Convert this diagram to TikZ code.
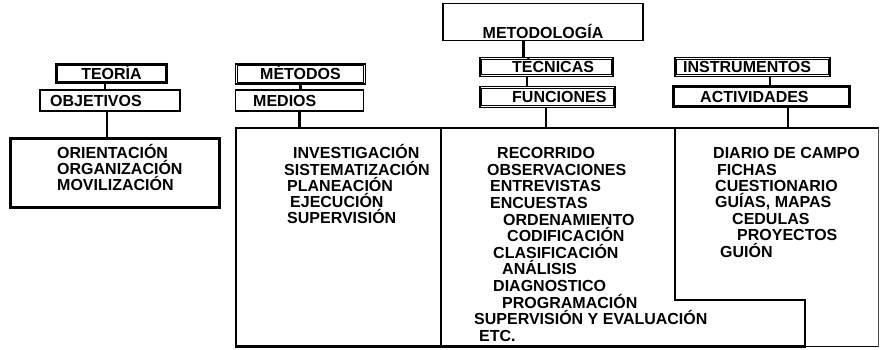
\documentclass[tikz,border=0pt]{standalone}
\usepackage{fontspec}
\setmainfont{Liberation Sans}
\begin{document}
\begin{tikzpicture}[x=1pt,y=-1pt,
  dbox/.style={draw, line width=1.1pt, inner sep=0pt},
  inner/.style={draw, line width=0.9pt},
  sbox/.style={draw, line width=1.2pt, inner sep=0pt},
  link/.style={line width=2.6pt},
  frame/.style={draw, line width=2.6pt, line cap=rect},
  faint/.style={draw=black!70, line width=0.9pt},
  txt/.style={inner sep=0pt, anchor=base west, font=\bfseries\fontsize{16}{16}\selectfont},
  ctxt/.style={inner sep=0pt, anchor=base, font=\bfseries\fontsize{16}{16}\selectfont}]
\useasboundingbox (0,0) rectangle (880,349);

% ---- top boxes
\node[dbox, minimum width=111pt, minimum height=19pt] (teoria) at (111.5,73.5) {};
\node[sbox, minimum width=140pt, minimum height=21pt] (objetivos) at (110,100.5) {};
\node[dbox, minimum width=210pt, minimum height=70pt] (leftbox) at (115,173) {};
\node[dbox, minimum width=130pt, minimum height=20pt] (metodos) at (300.5,74) {};
\node[sbox, minimum width=128pt, minimum height=21pt] (medios) at (299.5,100.5) {};
\node[sbox, minimum width=200pt, minimum height=37pt] (metodologia) at (543,22) {};
\node[dbox, minimum width=133pt, minimum height=19pt] (tecnicas) at (546.5,67) {};
\node[dbox, minimum width=135pt, minimum height=21pt] (funciones) at (547.5,97) {};
\node[dbox, minimum width=155pt, minimum height=19pt] (instrumentos) at (752.5,67) {};
\node[dbox, minimum width=177pt, minimum height=21pt] (actividades) at (761.5,96.5) {};
\foreach \n in {teoria,leftbox,metodos,tecnicas,funciones,instrumentos,actividades}
  \draw[inner] ([shift={(2.3pt,-2.3pt)}]\n.north west) rectangle ([shift={(-2.3pt,2.3pt)}]\n.south east);

% ---- box labels
\node[ctxt] (teoriaT) at (111.5,79.2) {TEORÍA};
\node[txt] (objetivosT) at (50,106.2) {OBJETIVOS};
\node[ctxt] (metodosT) at (300.5,79.7) {MÉTODOS};
\node[txt] (mediosT) at (253,106.2) {MEDIOS};
\node[ctxt] (metodologiaT) at (543,38.2) {METODOLOGÍA};
\node[txt] (tecnicasT) at (512,72.7) {TÉCNICAS};
\node[txt] (funcionesT) at (512,102.7) {FUNCIONES};
\node[txt] (instrumentosT) at (683,72.7) {INSTRUMENTOS};
\node[txt] (actividadesT) at (700,102.2) {ACTIVIDADES};

% ---- lower frame
\coordinate (fTL) at (236,128);
\coordinate (fBL) at (236,346.5);
\coordinate (fTR) at (878,128);
\coordinate (s1T) at (441,128);
\coordinate (s1B) at (441,346.5);
\coordinate (s2T) at (675,128);
\coordinate (s2M) at (675,300);
\coordinate (s3M) at (805,300);
\coordinate (s3B) at (805,346.5);
\coordinate (fBR) at (878,346.5);
\draw[frame] (fBL) -- (fTL) -- (fTR);
\draw[frame] (s1T) -- (s1B);
\draw[frame] (s2T) -- (s2M) -- (s3M) -- (s3B);
\draw[frame] (fBL) -- (s3B);
\draw[line width=1.6pt] (s3B) -- (fBR);
\draw[faint] (fBR) -- (fTR);

% ---- connectors
\draw[link] ([xshift=-6.5pt]teoria.south) -- ([xshift=-6.5pt]teoria.south |- objetivos.north);
\draw[link] ([xshift=-3pt]objetivos.south) -- ([xshift=-3pt]objetivos.south |- leftbox.north);
\draw[link] (metodos.south) -- (metodos.south |- medios.north);
\draw[link] (medios.south) -- (medios.south |- fTL);
\draw[link] ([xshift=-19.5pt]metodologia.south) -- ([xshift=-19.5pt]metodologia.south |- tecnicas.north);
\draw[link] ([xshift=-19.5pt]tecnicas.south) -- ([xshift=-19.5pt]tecnicas.south |- funciones.north);
\draw[line width=1.4pt] ([xshift=-1.5pt]funciones.south) -- ([xshift=-1.5pt]funciones.south |- fTL);
\draw[link] ([xshift=17.5pt]instrumentos.south) -- ([xshift=17.5pt]instrumentos.south |- actividades.north);
\draw[line width=1.4pt] ([xshift=26.5pt]actividades.south) -- ([xshift=26.5pt]actividades.south |- fTL);

% ---- list texts
\foreach \x/\t [count=\i] in {57/ORIENTACIÓN,57/ORGANIZACIÓN,57/MOVILIZACIÓN}
  \node[txt] (a\i) at (\x,158.7+16*\i-16) {\t};
\foreach \x/\t [count=\i] in {293/INVESTIGACIÓN,284/SISTEMATIZACIÓN,287/PLANEACIÓN,290/EJECUCIÓN,287/SUPERVISIÓN}
  \node[txt] (b\i) at (\x,158.7+16.3*\i-16.3) {\t};
\foreach \x/\t [count=\i] in {497/RECORRIDO,487/OBSERVACIONES,490/ENTREVISTAS,490/ENCUESTAS,503/ORDENAMIENTO,507/CODIFICACIÓN,493/CLASIFICACIÓN,502/ANÁLISIS,493/DIAGNOSTICO,502/PROGRAMACIÓN,474/SUPERVISIÓN Y EVALUACIÓN,479/ETC.}
  \node[txt] (c\i) at (\x,158.7+16.6*\i-16.6) {\t};
\foreach \x/\t [count=\i] in {713/DIARIO DE CAMPO,717/FICHAS,715/CUESTIONARIO,715/{GUÍAS, MAPAS},732/CEDULAS,737/PROYECTOS,720/GUIÓN}
  \node[txt] (d\i) at (\x,158.7+16.4*\i-16.4) {\t};
\end{tikzpicture}
\end{document}
